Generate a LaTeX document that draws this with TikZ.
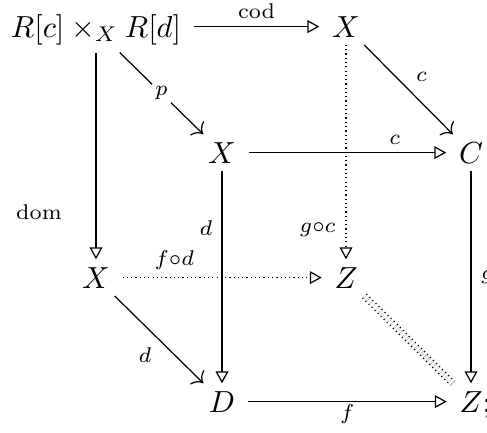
\documentclass[tikz,border=0pt]{standalone}
\usetikzlibrary{arrows.meta}
\begin{document}
\begin{tikzpicture}[x=0.328pt, y=-0.328pt,
  obj/.style={anchor=base, inner xsep=4pt, inner ysep=2.4pt},
  lab/.style={inner sep=2.3pt},
  tri/.style={-{Triangle[open,length=3.9pt,width=4.2pt]}},
  cmto/.style={-{Computer Modern Rightarrow[length=3pt,width=6.5pt]}},
  dots/.style={densely dotted},
  eqd/.style={double distance=1.4pt, densely dotted},
]
\useasboundingbox (0,0) rectangle (487,432);
% objects
\node[obj] (A)  at (96,37)   {$R[c]\times_X R[d]$};
\node[obj] (XT) at (346,37)  {$X$};
\node[obj] (XM) at (222,163) {$X$};
\node[obj] (C)  at (471,163) {$C$};
\node[obj] (XL) at (96,288)  {$X$};
\node[obj] (ZM) at (346,288) {$Z$};
\node[obj] (D)  at (222,412) {$D$};
\node[obj] (Z)  at (471,412) {$Z\smash{\rlap{;}}$};
% back face
\draw[tri] (A.east |- XT) -- (XT) node[lab, midway, above] {$\scriptstyle\mathrm{cod}$};
\draw[tri] (A.south -| XL) -- (XL) node[lab, pos=0.77, left=10pt, inner sep=1pt] {$\scriptstyle\mathrm{dom}$};
\draw[tri, dots] (XT) -- (ZM) node[lab, pos=0.86, left, inner sep=3.2pt] {$\scriptstyle g\circ c$};
\draw[tri, dots] (XL) -- (ZM) node[lab, pos=0.26, above] {$\scriptstyle f\circ d$};
% diagonals
\draw[cmto] (A) -- (XM) node[lab, midway, fill=white, inner sep=1pt] {$\scriptstyle p$};
\draw[cmto] (XT) -- (C) node[lab, midway, above right] {$\scriptstyle c$};
\draw[cmto] (XL) -- (D) node[lab, midway, below left] {$\scriptstyle d$};
\draw[eqd] (ZM) -- (Z);
% front face
\draw[tri] (XM) -- (C) node[lab, pos=0.74, above] {$\scriptstyle c$};
\draw[tri] (XM) -- (D) node[lab, pos=0.27, left, inner sep=3pt] {$\scriptstyle d$};
\draw[tri] (C) -- (Z) node[lab, midway, right, inner sep=3pt] {$\scriptstyle g$};
\draw[tri] (D) -- (Z) node[lab, midway, below, inner sep=0.8pt] {$\scriptstyle f$};
\end{tikzpicture}
\end{document}
